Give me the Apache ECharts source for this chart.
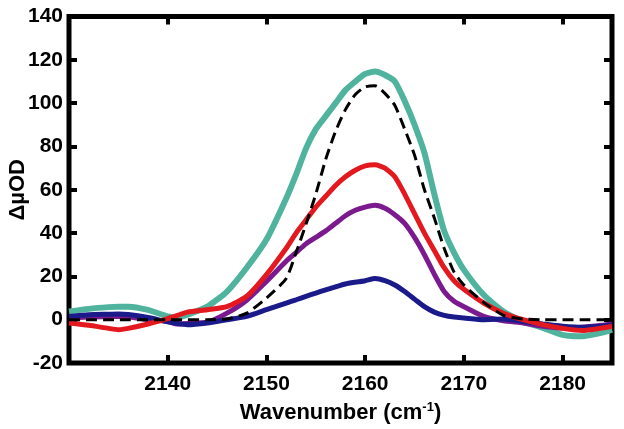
<!DOCTYPE html>
<html>
<head>
<meta charset="utf-8">
<script src="https://cdn.jsdelivr.net/npm/echarts@6/dist/echarts.min.js"></script>
<style>
html,body{margin:0;padding:0;background:#fff;}
#chart{width:624px;height:429px;}
</style>
</head>
<body>
<div id="chart"></div>
<script>
// Wavenumber grid (cm^-1)
const wavenumbers = [2130,2132,2134,2135,2136,2138,2140,2141,2142,2144,2146,2148,2150,2152,2153,2154,2155,2156,2157,2158,2159,2160,2161,2162,2163,2164,2165,2166,2167,2168,2169,2170,2172,2174,2176,2178,2180,2182,2184,2185];

const tealValues   = [3.8,5,5.8,6,6,4.5,1.5,1,2.3,6,13,24,37,56,67,79,88,94,100,106,110,113.5,114.6,113,110,101,90,77,58,41,31,23,11.5,3.8,-0.8,-3.8,-7,-7.7,-6,-4.6];
const purpleValues = [0.8,1.2,1.5,1.5,1.3,0,-0.8,-2,-1.8,-1.2,3,9,17.7,27,31,35,38,41,44.5,48,50.5,52,52.8,51.5,48.5,44.5,38,30,21,13,8.5,6,1.5,-0.5,-1.5,-3,-3.8,-3.5,-2.6,-2];
const navyValues   = [1.5,2.3,2.5,2.6,2.4,1,-1,-1.8,-2.3,-1.5,0,1.5,4.6,7.7,9.2,10.8,12.3,13.8,15.2,16.5,17.3,18,19,18,16,13,9.5,6,3.5,2,1.2,0.8,0,0.3,-0.8,-2,-3,-3.5,-3,-2.6];
const redValues    = [-1.5,-2.6,-4,-4.6,-4,-2,0.5,2,3.5,4.6,6,10.8,20.8,33,40,46,52,57,62,66,69,71,71.5,70,66,58,49,40,32,24,18,14,7.7,3,0,-2.3,-4,-5,-3.8,-3];
const dashedValues = [0,0,0,0,0,0,0,0,0,0,0.3,3,10,19,31,44,58,74,87,97,104,107.5,108,104.5,99,88,76,60,47,33,22,16,8,2,0.3,0,0,0,0,0];

const xTicks = [2140,2150,2160,2170,2180];
const yTicks = [-20,0,20,40,60,80,100,120,140];

function pairs(vals){ return wavenumbers.map((x,i)=>[x, vals[i]]); }

const chart = echarts.init(document.getElementById('chart'), null, {renderer:'canvas'});
const FONT = 'Liberation Sans, Arial, sans-serif';
const labelFont = {fontFamily:FONT, fontWeight:'bold', fontSize:21, color:'#000'};
const tickStyle = {show:true, inside:true, length:8, lineStyle:{color:'#000', width:4}};
const noLine = {show:false, onZero:false};

chart.setOption({
  animation:false,
  backgroundColor:'#fff',
  grid:{left:69, right:12, top:16.5, bottom:66, containLabel:false, outerBoundsMode:'none',
        show:true, borderColor:'#000', borderWidth:5, backgroundColor:'transparent'},
  xAxis:[{
    type:'value', min:2130, max:2185, interval:10, position:'bottom',
    axisLine:noLine, splitLine:{show:false},
    axisTick:tickStyle,
    axisLabel:Object.assign({margin:11, formatter:v=> xTicks.includes(v)? String(v):''}, labelFont),
    name:'{a|Wavenumber (cm}{s|-1}{a|)}', nameLocation:'middle', nameGap:38, nameMoveOverlap:false,
    nameTextStyle:{rich:{
      a:{fontFamily:FONT, fontWeight:'bold', fontSize:22, color:'#000'},
      s:{fontFamily:FONT, fontWeight:'bold', fontSize:13, color:'#000', verticalAlign:'top', padding:[0,0,10,0]}
    }}
  },{
    type:'value', min:2130, max:2185, interval:10, position:'top',
    axisLine:noLine, splitLine:{show:false}, axisTick:tickStyle, axisLabel:{show:false}
  }],
  yAxis:[{
    type:'value', min:-20, max:140, interval:20, position:'left',
    axisLine:noLine, splitLine:{show:false},
    axisTick:tickStyle,
    axisLabel:Object.assign({margin:6, formatter:v=> yTicks.includes(v)? String(v):''}, labelFont),
    name:'ΔµOD', nameLocation:'middle', nameGap:40, nameRotate:90, nameMoveOverlap:false,
    nameTextStyle:{fontFamily:FONT, fontWeight:'bold', fontSize:22, color:'#000'}
  },{
    type:'value', min:-20, max:140, interval:20, position:'right',
    axisLine:noLine, splitLine:{show:false}, axisTick:tickStyle, axisLabel:{show:false}
  }],
  series:[
    {type:'line', data:pairs(tealValues), showSymbol:false, smooth:0.2, lineStyle:{color:'#4fb39e', width:6}},
    {type:'line', data:pairs(purpleValues), showSymbol:false, smooth:0.2, lineStyle:{color:'#7a1a8e', width:5}},
    {type:'line', data:pairs(navyValues), showSymbol:false, smooth:0.2, lineStyle:{color:'#1b1a8a', width:5}},
    {type:'line', data:pairs(redValues), showSymbol:false, smooth:0.2, lineStyle:{color:'#e3191f', width:5}},
    {type:'line', data:pairs(dashedValues), showSymbol:false, smooth:0.2, lineStyle:{color:'#000', width:3, type:[11,6]}}
  ]
});
</script>
</body>
</html>
